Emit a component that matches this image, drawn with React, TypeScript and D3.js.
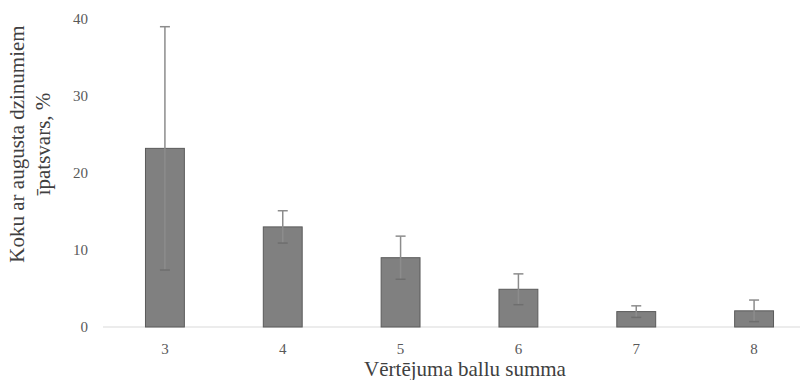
import React from "react";
import * as d3 from "d3";

const categories = ["3", "4", "5", "6", "7", "8"];
const values = [23.2, 13.0, 9.0, 4.9, 2.0, 2.1];
const errors = [15.8, 2.1, 2.8, 2.0, 0.75, 1.4];
const yTicks = [0, 10, 20, 30, 40];

export default function App() {
  const W = 803, H = 380;
  const x = d3.scaleBand<string>().domain(categories).range([106, 813]).paddingInner(0.67).paddingOuter(0.335);
  const y = d3.scaleLinear().domain([0, 40]).range([327, 19]);
  const font = "Liberation Serif, DejaVu Serif, serif";
  const bw = x.bandwidth();
  return (
    <svg width={W} height={H} style={{ position: "absolute", left: 0, top: 0, fontFamily: font }}>
      <rect width={W} height={H} fill="#fff" />
      <line x1={103} x2={800} y1={y(0)} y2={y(0)} stroke="#d9d9d9" strokeWidth={1} />
      {yTicks.map((t) => (
        <text key={t} x={88} y={y(t)} dy="0.35em" textAnchor="end" fontSize={15} fill="#595959">{t}</text>
      ))}
      {categories.map((c, i) => {
        const cx = (x(c) as number) + bw / 2;
        return (
          <g key={c}>
            <rect x={x(c)} y={y(values[i])} width={bw} height={y(0) - y(values[i])} fill="#808080" stroke="#5a5a5a" strokeWidth={1} />
            <line x1={cx} x2={cx} y1={y(values[i] + errors[i])} y2={y(values[i] - errors[i])} stroke="#8c8c8c" strokeWidth={1.5} />
            <line x1={cx - 5} x2={cx + 5} y1={y(values[i] + errors[i])} y2={y(values[i] + errors[i])} stroke="#8c8c8c" strokeWidth={1.5} />
            <line x1={cx - 5} x2={cx + 5} y1={y(values[i] - errors[i])} y2={y(values[i] - errors[i])} stroke="#6e6e6e" strokeWidth={1.5} />
            <text x={cx} y={349} dy="0.35em" textAnchor="middle" fontSize={15} fill="#595959">{c}</text>
          </g>
        );
      })}
      <text x={465} y={376} textAnchor="middle" fontSize={21} fill="#404040">Vērtējuma ballu summa</text>
      <g transform="translate(0,144) rotate(-90)">
        <text x={0} y={24} textAnchor="middle" fontSize={21} fill="#404040">Koku ar augusta dzinumiem</text>
        <text x={0} y={50} textAnchor="middle" fontSize={21} fill="#404040">īpatsvars, %</text>
      </g>
    </svg>
  );
}
